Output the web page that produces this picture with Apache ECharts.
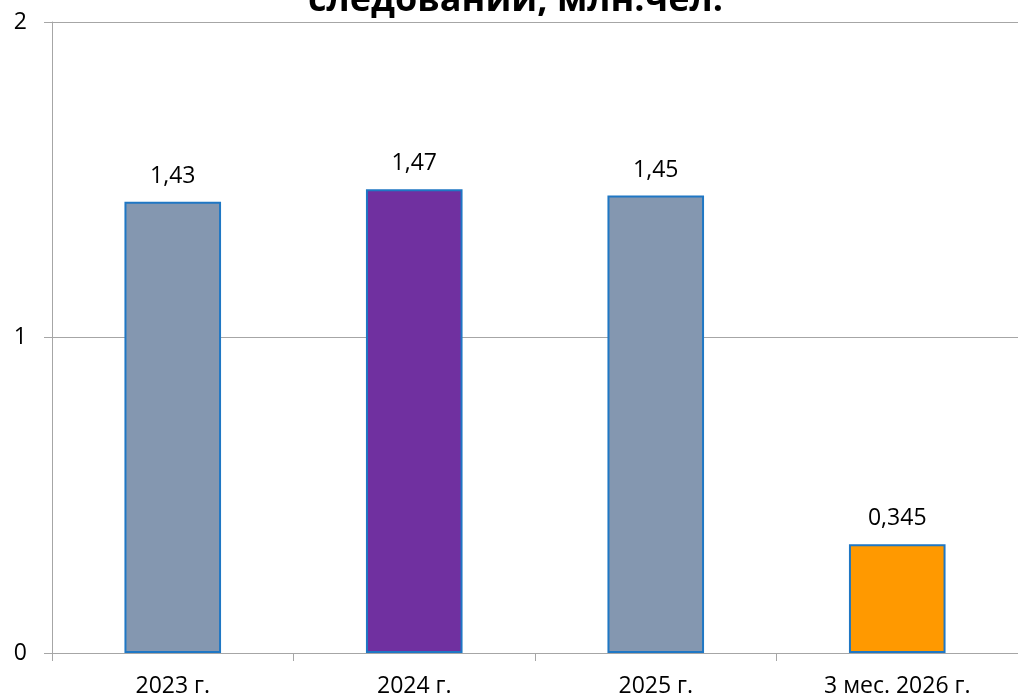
<!DOCTYPE html>
<html>
<head>
<meta charset="utf-8">
<script src="https://cdn.jsdelivr.net/npm/echarts@6/dist/echarts.min.js"></script>
<style>
  html, body { margin: 0; padding: 0; background: #fff; }
  #chart { width: 1018px; height: 700px; }
</style>
</head>
<body>
<div id="chart"></div>
<script>
const categories = ["2023 г.", "2024 г.", "2025 г.", "3 мес. 2026 г."];
const values = [1.43, 1.47, 1.45, 0.345];
const barColors = ["#8497B0", "#7030A0", "#8497B0", "#FF9900"];
const labelTexts = ["1,43", "1,47", "1,45", "0,345"];

const chart = echarts.init(document.getElementById("chart"));
chart.setOption({
  animation: false,
  title: {
    text: "следований, млн.чел.",
    left: 303,
    top: -22,
    textStyle: { fontFamily: "Open Sans", fontWeight: "bold", fontSize: 36, color: "#000" }
  },
  grid: { left: 52, right: 0, top: 22, bottom: 47 },
  xAxis: {
    type: "category",
    data: categories,
    axisLine: { lineStyle: { color: "#A6A6A6", width: 1 } },
    axisTick: { show: true, length: 8, lineStyle: { color: "#A6A6A6" } },
    axisLabel: { color: "#000", fontSize: 23, fontFamily: "Open Sans", margin: 22 }
  },
  yAxis: {
    type: "value",
    min: 0,
    max: 2,
    interval: 1,
    axisLine: { show: true, lineStyle: { color: "#A6A6A6" } },
    axisTick: { show: true, length: 8, lineStyle: { color: "#A6A6A6" } },
    splitLine: { lineStyle: { color: "#A6A6A6" } },
    axisLabel: { color: "#000", fontSize: 23, fontFamily: "Open Sans", margin: 25 }
  },
  series: [{
    type: "bar",
    barWidth: "40%",
    data: values.map((v, i) => ({
      value: v,
      itemStyle: { color: barColors[i], borderColor: "#1F77C4", borderWidth: 2 }
    })),
    label: {
      show: true,
      position: "top",
      distance: 14,
      color: "#000",
      fontSize: 23,
      fontFamily: "Open Sans",
      formatter: (p) => labelTexts[p.dataIndex]
    }
  }]
});
</script>
</body>
</html>
